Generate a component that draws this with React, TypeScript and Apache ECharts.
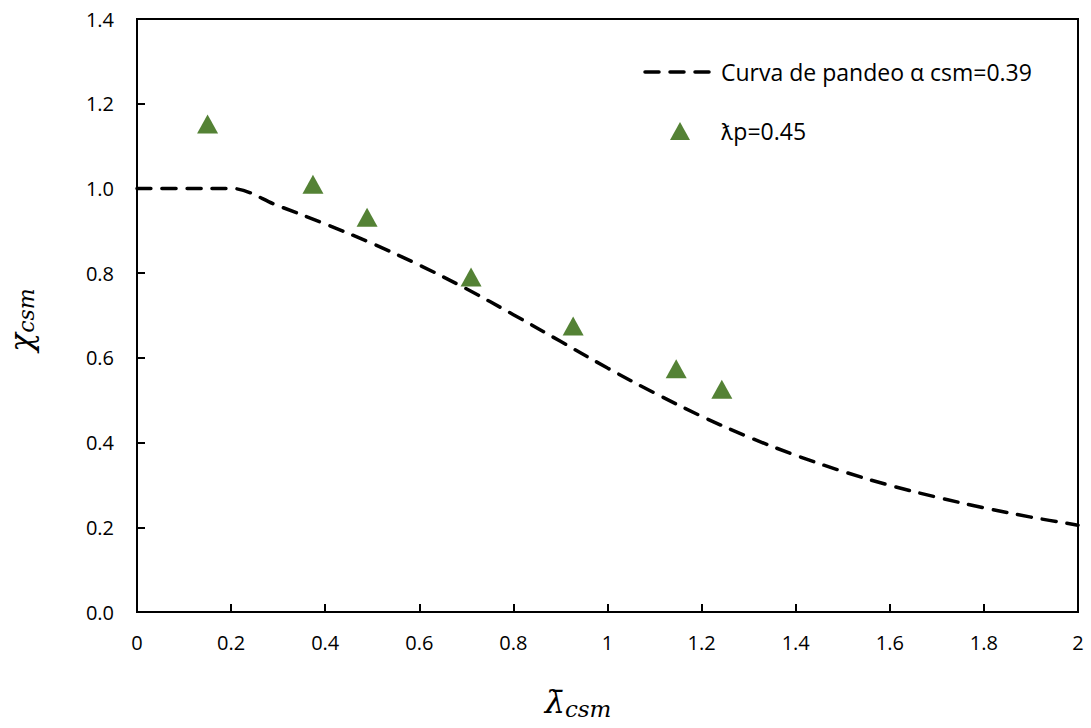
import React, { useEffect, useRef } from "react";
import * as echarts from "echarts";

const curveLambda = [0, 0.1, 0.2, 0.3, 0.4, 0.5, 0.6, 0.7, 0.8, 0.9, 1.0, 1.1, 1.2, 1.3, 1.4, 1.5, 1.6, 1.7, 1.8, 1.9, 2.0];
const curveChi = [1.0, 1.0, 1.0, 0.959, 0.916, 0.87, 0.819, 0.763, 0.702, 0.639, 0.576, 0.517, 0.462, 0.413, 0.37, 0.332, 0.299, 0.271, 0.246, 0.224, 0.205];

const testLambda = [0.15, 0.374, 0.489, 0.71, 0.927, 1.146, 1.243];
const testChi = [1.152, 1.01, 0.932, 0.791, 0.675, 0.574, 0.526];

const curveName = "Curva de pandeo α csm=0.39";
const testName = "ƛp=0.45";

const FONT = "'Open Sans', Lato, sans-serif";
const MATH = "'DejaVu Serif', 'Liberation Serif', serif";
const GREEN = "#548235";

export default function App() {
  const ref = useRef<HTMLDivElement>(null);
  useEffect(() => {
    if (!ref.current) return;
    const chart = echarts.init(ref.current, null, { renderer: "svg" });
    chart.setOption({
      animation: false,
      backgroundColor: "#ffffff",
      grid: {
        left: 137,
        right: 13,
        top: 19,
        bottom: 116,
        show: true,
        borderColor: "#000",
        borderWidth: 2,
      },
      xAxis: {
        type: "value",
        min: 0,
        max: 2,
        interval: 0.2,
        axisLine: { lineStyle: { color: "#000", width: 2 } },
        axisTick: { inside: true, length: 8, lineStyle: { color: "#000", width: 2 } },
        axisLabel: { color: "#000", fontFamily: FONT, fontSize: 20, margin: 20 },
        splitLine: { show: false },
      },
      yAxis: {
        type: "value",
        min: 0,
        max: 1.4,
        interval: 0.2,
        axisLine: { show: true, lineStyle: { color: "#000", width: 2 } },
        axisTick: { show: true, inside: true, length: 8, lineStyle: { color: "#000", width: 2 } },
        axisLabel: {
          color: "#000",
          fontFamily: FONT,
          fontSize: 20,
          margin: 23,
          formatter: (v: number) => v.toFixed(1),
        },
        splitLine: { show: false },
      },
      graphic: [
        {
          type: "text",
          x: 21,
          y: 320,
          rotation: Math.PI / 2,
          style: {
            text: "{a|χ}{b|csm}",
            align: "center",
            verticalAlign: "middle",
            rich: {
              a: { fontFamily: MATH, fontStyle: "italic", fontSize: 31, fill: "#000" },
              b: { fontFamily: MATH, fontStyle: "italic", fontSize: 22, fill: "#000", padding: [10, 0, 0, 0] },
            },
          },
        },
        {
          type: "text",
          x: 578,
          y: 702,
          style: {
            text: "{a|λ\u0304}{b|csm}",
            align: "center",
            verticalAlign: "middle",
            rich: {
              a: { fontFamily: MATH, fontStyle: "italic", fontSize: 32, fill: "#000" },
              b: { fontFamily: MATH, fontStyle: "italic", fontSize: 23, fill: "#000", padding: [14, 0, 0, 0] },
            },
          },
        },
        // legend
        {
          type: "line",
          shape: { x1: 645, y1: 72, x2: 718, y2: 72 },
          style: { stroke: "#000", lineWidth: 3.5, lineDash: [14, 11], lineCap: "round" },
        },
        {
          type: "text",
          x: 721,
          y: 72,
          style: {
            text: curveName,
            fontFamily: FONT,
            fontSize: 23,
            fill: "#000",
            verticalAlign: "middle",
          },
        },
        {
          type: "polygon",
          shape: { points: [[680, 122], [690, 140], [670, 140]] },
          style: { fill: GREEN },
        },
        {
          type: "text",
          x: 721,
          y: 131,
          style: {
            text: testName,
            fontFamily: FONT,
            fontSize: 23,
            fill: "#000",
            verticalAlign: "middle",
          },
        },
      ],
      series: [
        {
          name: curveName,
          type: "line",
          data: curveLambda.map((x, i) => [x, curveChi[i]]),
          smooth: 0.35,
          symbol: "none",
          lineStyle: { color: "#000", width: 3.5, type: [14, 11], cap: "round" },
          itemStyle: { color: "#000" },
          z: 2,
        },
        {
          name: testName,
          type: "scatter",
          data: testLambda.map((x, i) => [x, testChi[i]]),
          symbol: "triangle",
          symbolSize: [21, 19],
          itemStyle: { color: GREEN, opacity: 1 },
          z: 3,
        },
      ],
    });
    return () => chart.dispose();
  }, []);
  return (
    <div
      ref={ref}
      style={{ position: "absolute", left: 0, top: 0, width: 1091, height: 728 }}
    />
  );
}
